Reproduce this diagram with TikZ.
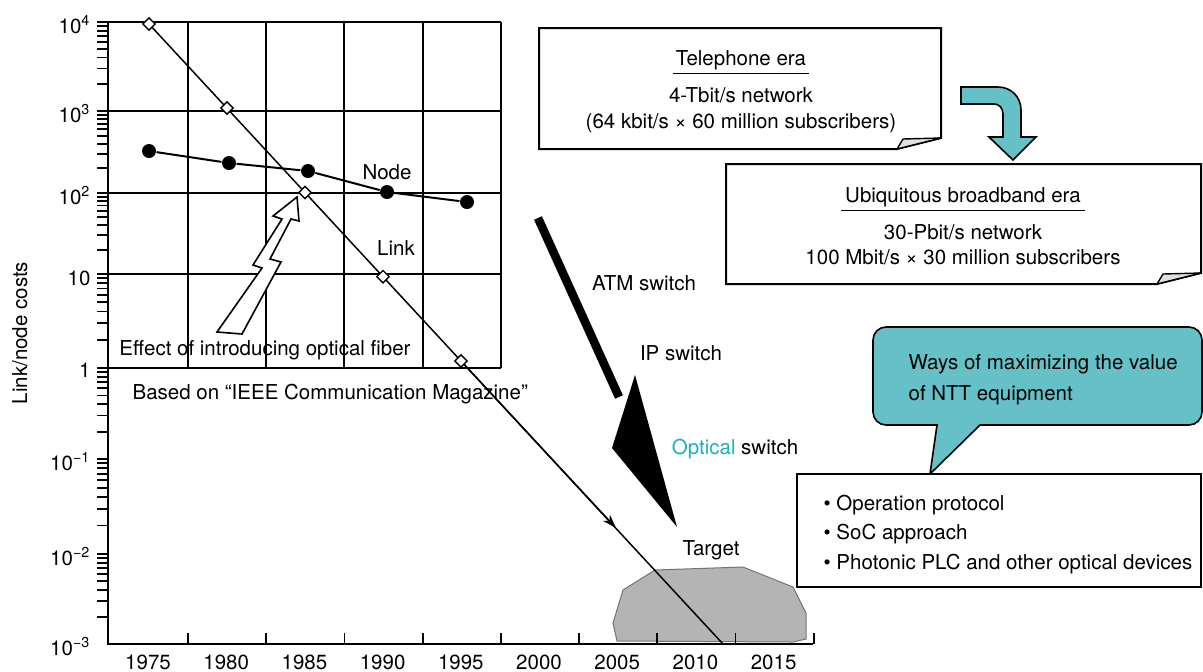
\documentclass[tikz,border=0pt]{standalone}
\usepackage{fontspec}
\setmainfont{TeX Gyre Heros}
\usetikzlibrary{shapes.geometric,arrows.meta,positioning}

\definecolor{nttteal}{RGB}{102,192,200}
\definecolor{opticteal}{RGB}{25,178,190}
\definecolor{targetgray}{RGB}{180,180,180}
\newcommand{\tenpow}[1]{10\textsuperscript{#1}}

\begin{document}
\begin{tikzpicture}[x=0.5pt,y=-0.5pt,>=Stealth,semithick,node distance=6.9pt,
  font=\fontsize{10.25}{13}\selectfont,
  txt/.style={inner sep=0pt,text height=0.72em,text depth=0pt},
  linkpt/.style={diamond,draw,fill=white,line width=0.7pt,inner sep=0pt,minimum size=6.5pt},
  nodept/.style={circle,fill,inner sep=0pt,minimum size=7pt},
  gridln/.style={line width=1pt},
  tickln/.style={line width=0.9pt},
  paper/.style={draw,line width=1pt,fill=white},
  curl/.style={draw,line width=0.7pt,fill=black!12,line join=round}]

\useasboundingbox (0,0) rectangle (1203,671);

% target area
\draw[fill=targetgray,draw=black!55,line width=0.5pt] (655,570) -- (743,567) -- (793,587) -- (806,613) -- (806,639) -- (793,642) -- (617,641) -- (613,623) -- (623,590) -- cycle;
\node[txt] (target) at (711,548) {Target};

% axes and grid
\draw[line width=1pt] (108,22) -- (108,644) -- (813,644);
\foreach \yy in {22,111,193,274,368}
  \draw[gridln] (108,\yy) -- (500.8,\yy);
\foreach \i in {0,...,4}
  \draw[gridln] (188+78.2*\i,22) -- (188+78.2*\i,368);
\foreach \i in {0,...,8}
  \draw[tickln] (188+78.2*\i,644) -- (188+78.2*\i,633);
\foreach \yr [count=\i from 0] in {1975,1980,...,2015}
  \node[txt] (yr_\i) at (148+78.2*\i,662) {\yr};

% log ticks
\foreach \yt/\yb in {22/111,111/193,193/274,274/368,368/459,459/554,554/644} {
  \draw[tickln] (97,\yt) -- (108,\yt);
  \foreach \m in {2,...,9}
    \draw[tickln] (97,{\yb-log10(\m)*(\yb-\yt)}) -- (108,{\yb-log10(\m)*(\yb-\yt)});
}
\foreach \yy/\ee [count=\k] in {22/4,111/3,193/2,459/−1,554/−2,644/−3}
  \node[txt,anchor=base east] (ylab_\k) at (91,\yy+11) {\tenpow{\ee}};
\node[txt,anchor=base east] (ylab_ten) at (91,285) {10};
\node[txt,anchor=base east] (ylab_one) at (91,377) {1};
\node[txt,rotate=90] (ylabel) at (20,333) {Link/node costs};

% link costs
\coordinate (l_1) at (149,24);
\coordinate (l_2) at (227,108);
\coordinate (l_3) at (305,192.5);
\coordinate (l_4) at (383,276.7);
\coordinate (l_5) at (461,361);
\coordinate (link_arr) at (616,528);
\coordinate (link_end) at (723,644);
\draw[line width=0.75pt] (l_1) -- (link_end);
\draw[line width=0.75pt,-{Stealth[length=7pt,width=4.6pt]}] (l_5) -- (link_arr);
\foreach \k in {1,...,5}
  \node[linkpt] (lp_\k) at (l_\k) {};
\node[txt] (linklab) at (396,248) {Link};

% node costs
\node[nodept] (n_1) at (149,151) {};
\node[nodept] (n_2) at (229,163) {};
\node[nodept] (n_3) at (308,171) {};
\node[nodept] (n_4) at (387,192) {};
\node[nodept] (n_5) at (467,202) {};
\draw[line width=1pt] (n_1) -- (n_2) -- (n_3) -- (n_4) -- (n_5);
\node[txt] (nodelab) at (387,172) {Node};

% optical fiber
\draw[line width=0.8pt,fill=white,line join=miter] (297,197) -- (299,221) -- (291,219) -- (270,259) -- (281,262) -- (242,334) -- (217,332) -- (262,268) -- (253,265) -- (282,219) -- (273,216) -- cycle;
\node[txt] (fiber) at (265,348) {Effect of introducing optical fiber};
\node[txt,anchor=west] (source) at (132,392) {Based on “IEEE Communication Magazine”};

% switches
\draw[line width=4.3pt] (538,218) -- (619,397);
\fill (635,375) -- (612,448) -- (677,527) -- cycle;
\node[txt] (atm) at (644,283) {ATM switch};
\node[txt] (ip) at (681,353) {IP switch};
\node[txt] (optic) at (735,447) {\textcolor{opticteal}{Optical} switch};

% telephone era
\draw[paper] (539,28) -- (941,28) -- (941,138) -- (897,149) -- (539,149) -- cycle;
\draw[curl] (897,149) -- (903,139) -- (941,138) -- cycle;
\node[txt] (tel_t) at (741,58) {Telephone era};
\draw[line width=0.6pt] ([xshift=-1pt,yshift=-3.8pt]tel_t.south west) -- ([xshift=1pt,yshift=-3.8pt]tel_t.south east);
\node[txt,below=10.6pt of tel_t] (tel_a) {4-Tbit/s network};
\node[txt,below=5.6pt of tel_a] (tel_b) {(64 kbit/s × 60 million subscribers)};

% era change
\draw[fill=nttteal,line width=0.8pt,line join=miter] (961,87) -- (998,87) .. controls (1011,87) and (1021,97) .. (1021,110) -- (1021,137) -- (1036,137) -- (1013,160) -- (989,137) -- (1003,137) -- (1003,114) .. controls (1003,108) and (999,104) .. (994,104) -- (961,104) -- cycle;

% broadband era
\draw[paper] (726,164) -- (1201,164) -- (1201,273) -- (1157,284) -- (726,284) -- cycle;
\draw[curl] (1157,284) -- (1163,274) -- (1201,273) -- cycle;
\node[txt] (ubi_t) at (963,195) {Ubiquitous broadband era};
\draw[line width=0.6pt] ([xshift=-2pt,yshift=-3.8pt]ubi_t.south west) -- ([xshift=2pt,yshift=-3.8pt]ubi_t.south east);
\node[txt,below=10.6pt of ubi_t] (ubi_a) {30-Pbit/s network};
\node[txt,below=4.8pt of ubi_a] (ubi_b) {100 Mbit/s × 30 million subscribers};

% value of equipment
\draw[fill=nttteal,line width=0.8pt] (930,474) -- (937,425) [rounded corners=6.5pt] -- (873,425) -- (873,327) -- (1202,327) -- (1202,425) [sharp corners] -- (980,425) -- cycle;
\node[txt,anchor=west] (way_a) at (908,362) {Ways of maximizing the value};
\node[txt,below=7.6pt of way_a.south west,anchor=north west] (way_b) {of NTT equipment};

\draw[line width=1pt,fill=white] (797,474) rectangle (1201,587);
\node[txt,anchor=west] (item_a) at (823,503) {• Operation protocol};
\node[txt,below=of item_a.south west,anchor=north west] (item_b) {• SoC approach};
\node[txt,below=of item_b.south west,anchor=north west] (item_c) {• Photonic PLC and other optical devices};
\end{tikzpicture}
\end{document}
